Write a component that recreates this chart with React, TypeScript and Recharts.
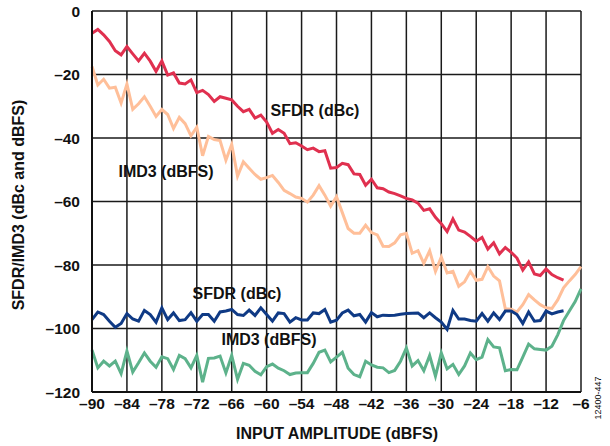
import React from "react";
import { LineChart, Line, XAxis, YAxis, CartesianGrid } from "recharts";

// input amplitude, dBFS, 1 dB steps
const amplitude: number[] = [];
for (let a = -90; a <= -6; a++) amplitude.push(a);

const sfdrHigh: (number | null)[] = [
  -7, -5.8, -7.5, -9.6, -12.5, -13.8, -11.2, -13.5, -15.7, -13.3,
  -15.8, -19, -15.7, -20.2, -19.5, -22.7, -23, -21.7, -25.7, -25,
  -26.3, -28.5, -27, -27.5, -28, -30, -31.7, -31, -33.7, -32.8,
  -35, -38.5, -37.3, -38.5, -41.8, -41.5, -42.5, -43.7, -43.2, -44.3,
  -44, -49.5, -49.3, -48, -48.4, -51.3, -51.5, -54.9, -53, -55.7,
  -56, -57, -57.5, -58.2, -59, -59.5, -60.5, -62.8, -62.3, -65,
  -67, -69.5, -65.5, -69, -69.6, -71, -72.5, -71.3, -75, -73,
  -76.5, -74.5, -76, -77.8, -81.6, -79, -82.8, -83.3, -81.2, -83,
  -84, -84.8, null, null, null,
];

const imd3High: number[] = [
  -17.5, -23.3, -21.5, -24.3, -24, -29, -23, -31, -29.2, -27,
  -30, -33.2, -31, -32.6, -37, -33.5, -35.5, -39.3, -36.6, -45.6,
  -39.5, -40.5, -40.8, -47, -42, -52, -47.5, -49.5, -51.5, -53,
  -52.5, -51.8, -54, -56.5, -57.5, -58.6, -59, -60.2, -58, -55,
  -58, -61.5, -58.5, -63.5, -68.5, -70, -70, -67.5, -69.8, -70.5,
  -74.1, -74.2, -73, -70.5, -70, -76.3, -75.5, -79.5, -75.5, -82,
  -77.5, -82.5, -82, -86.7, -85.3, -82, -84.8, -84.5, -80.5, -83.5,
  -85, -93.8, -93.9, -94.8, -92.5, -89.3, -91, -92.5, -93.5, -93.7,
  -91, -87.2, -85, -83, -80.5,
];

const sfdrLow: (number | null)[] = [
  -97.2, -94.8, -95.6, -97.7, -99.6, -98.4, -95.3, -97, -97.7, -94.3,
  -95.6, -98, -93.5, -97.2, -95.1, -97.5, -97.2, -95, -97.7, -95.6,
  -95.6, -97.7, -94.8, -94.5, -94, -95.6, -95.9, -94.2, -95.9, -93.5,
  -95.6, -97.7, -95.1, -95.3, -98, -96.6, -97.3, -97.3, -95.1, -95.3,
  -94, -98, -97.4, -95.1, -94.2, -96, -95.6, -98, -95, -96.3,
  -95.8, -95.9, -95.8, -95.5, -95.3, -95.2, -95.1, -96.6, -95.1, -96.6,
  -98, -100.3, -94.3, -97, -97, -97.5, -97.7, -95.3, -97.7, -95.1,
  -97.2, -94.5, -94.5, -95.6, -98.4, -94.8, -97.7, -97.5, -94.5, -95.4,
  -94.8, -94.4, null, null, null,
];

const imd3Low: number[] = [
  -106.8, -112.4, -110.3, -111.8, -110.3, -114.2, -107.1, -113.7, -110.8, -107.7,
  -110.3, -112.2, -108.9, -109.5, -112.9, -108.5, -109.5, -112.4, -108.5, -116.9,
  -109.4, -109.3, -108.7, -114, -108.5, -116, -111, -111.6, -113.5, -114.6,
  -112, -111.2, -112.5, -113.3, -114.5, -114, -113.9, -113.9, -111, -107.5,
  -106.8, -110.5, -109, -107.5, -112.5, -114.5, -115.2, -110.3, -111.5, -112.2,
  -112.4, -113.9, -113.2, -110.3, -106.1, -111.8, -110.1, -113.3, -108.5, -115,
  -107.7, -112.7, -111.3, -114.5, -111.8, -107.7, -109.8, -109, -103.5, -105.8,
  -106.1, -113.3, -112.9, -113, -109, -104.9, -106.4, -106.6, -106.8, -105.6,
  -102, -97.5, -94.5, -91.5, -87.5,
];

const xTicks = [-90, -84, -78, -72, -66, -60, -54, -48, -42, -36, -30, -24, -18, -12, -6];
const yTicks = [0, -20, -40, -60, -80, -100, -120];

const data = amplitude.map((a, i) => ({
  a,
  sfdrHigh: sfdrHigh[i],
  imd3High: imd3High[i],
  sfdrLow: sfdrLow[i],
  imd3Low: imd3Low[i],
}));

const font = "'Liberation Sans', Arial, sans-serif";
const dash = (v: number) => String(v).replace("-", "\u2013");
const tickStyle = { fill: "#111", fontSize: 15.5, fontWeight: 700, fontFamily: font };

export default function App() {
  return (
    <div style={{ position: "absolute", left: 0, top: 0, width: 610, height: 446, background: "#fff" }}>
      <LineChart
        width={610}
        height={446}
        data={data}
        margin={{ top: 11, right: 29, bottom: 24, left: 32 }}
      >
        <CartesianGrid stroke="#1a1a1a" strokeWidth={1.5} />
        <XAxis
          dataKey="a"
          type="number"
          domain={[-90, -6]}
          ticks={xTicks}
          tickFormatter={dash}
          tick={tickStyle}
          tickLine={false}
          axisLine={{ stroke: "#111", strokeWidth: 2 }}
          height={30}
          tickMargin={0}
          interval={0}
        />
        <YAxis
          type="number"
          domain={[-120, 0]}
          ticks={yTicks}
          tickFormatter={dash}
          tick={tickStyle}
          tickLine={false}
          axisLine={{ stroke: "#111", strokeWidth: 2 }}
          width={60}
          tickMargin={6}
          interval={0}
        />
        <Line dataKey="imd3High" stroke="#FFBF99" strokeWidth={3} dot={false} isAnimationActive={false} />
        <Line dataKey="sfdrHigh" stroke="#E0304F" strokeWidth={3} dot={false} isAnimationActive={false} />
        <Line dataKey="imd3Low" stroke="#5DB28B" strokeWidth={3} dot={false} isAnimationActive={false} />
        <Line dataKey="sfdrLow" stroke="#0F3A85" strokeWidth={3} dot={false} isAnimationActive={false} />
      </LineChart>
      <svg
        width={610}
        height={446}
        style={{ position: "absolute", left: 0, top: 0, pointerEvents: "none" }}
        fontFamily={font}
        fontWeight={700}
        fill="#111"
      >
        <text x={315} y={116} fontSize={16} textAnchor="middle">SFDR (dBc)</text>
        <text x={166} y={177} fontSize={16} textAnchor="middle">IMD3 (dBFS)</text>
        <text x={237} y={299} fontSize={16} textAnchor="middle">SFDR (dBc)</text>
        <text x={269} y={345} fontSize={16} textAnchor="middle">IMD3 (dBFS)</text>
        <text x={337} y={439} fontSize={16} textAnchor="middle">INPUT AMPLITUDE (dBFS)</text>
        <text x={24} y={205} fontSize={16} textAnchor="middle" transform="rotate(-90 24 205)">
          SFDR/IMD3 (dBc and dBFS)
        </text>
        <text x={601} y={398} fontSize={9} fontWeight={400} textAnchor="middle" transform="rotate(-90 601 398)">
          12400-447
        </text>
      </svg>
    </div>
  );
}
